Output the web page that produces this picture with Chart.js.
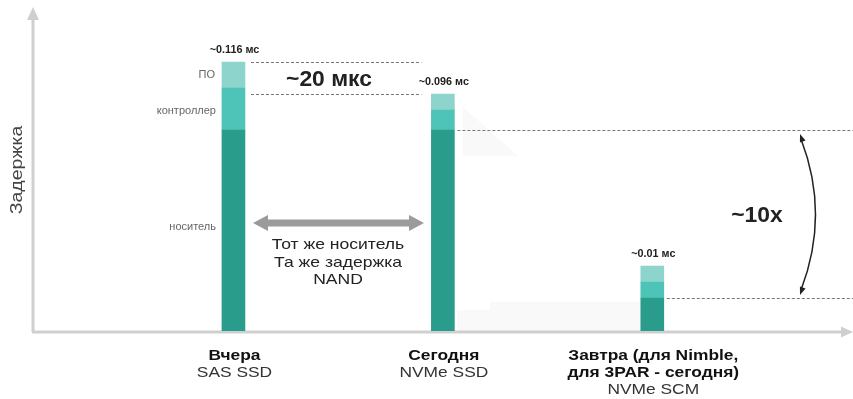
<!DOCTYPE html>
<html>
<head>
<meta charset="utf-8">
<script src="https://cdn.jsdelivr.net/npm/chart.js@4"></script>
<style>
  html, body { margin: 0; padding: 0; background: #fff; }
  #wrap { width: 853px; height: 399px; position: relative; }
</style>
</head>
<body>
<div id="wrap"><canvas id="latency-chart"></canvas></div>
<script>
// данные
const categoryTitles = [['Вчера'], ['Сегодня'], ['Завтра (для Nimble,', 'для 3PAR - сегодня)']];
const categorySubtitles = ['SAS SSD', 'NVMe SSD', 'NVMe SCM'];
const segmentNames = ['носитель', 'контроллер', 'ПО'];
const mediaLatency = [100.5, 100.5, 16.5];
const controllerLatency = [21, 10, 8];
const softwareLatency = [13, 8, 8];
const totalLabels = ['~0.116 мс', '~0.096 мс', '~0.01 мс'];
const yMax = 160;

const FONT = '"Liberation Sans", Arial, sans-serif';

function arrowHead(ctx, x, y, angle, len, wid) {
    ctx.save();
    ctx.translate(x, y);
    ctx.rotate(angle);
    ctx.beginPath();
    ctx.moveTo(0, 0);
    ctx.lineTo(-len, -wid / 2);
    ctx.lineTo(-len, wid / 2);
    ctx.closePath();
    ctx.fill();
    ctx.restore();
}

// текст, растянутый по горизонтали (в оригинале шрифт шире)
function wideText(ctx, text, x, y, sx) {
    ctx.save();
    ctx.translate(x, y);
    ctx.scale(sx, 1);
    ctx.fillText(text, 0, 0);
    ctx.restore();
}

function dashed(ctx, x1, x2, y) {
    ctx.save();
    ctx.strokeStyle = '#777';
    ctx.lineWidth = 1;
    ctx.setLineDash([3, 2]);
    ctx.beginPath();
    ctx.moveTo(x1, y + 0.5);
    ctx.lineTo(x2, y + 0.5);
    ctx.stroke();
    ctx.restore();
}

// оси и подписи
const decorations = {
    id: 'decorations',
    beforeDatasetsDraw(chart) {
        const ctx = chart.ctx;
        const yScale = chart.scales.y;
        const base = yScale.getPixelForValue(0);
        ctx.save();
        // бледные тени
        ctx.fillStyle = '#f9f9f9';
        ctx.beginPath();
        ctx.moveTo(463, 107);
        ctx.lineTo(518, 156);
        ctx.lineTo(463, 156);
        ctx.closePath();
        ctx.fill();
        ctx.fillRect(457, 310, 183, base - 310);
        ctx.fillRect(490, 302, 150, 8);

        // оси
        ctx.strokeStyle = '#cfcfcf';
        ctx.fillStyle = '#cfcfcf';
        ctx.lineWidth = 3;
        ctx.beginPath();
        ctx.moveTo(33, base + 1);
        ctx.lineTo(33, 18);
        ctx.moveTo(32, base + 1);
        ctx.lineTo(842, base + 1);
        ctx.stroke();
        arrowHead(ctx, 33, 7, -Math.PI / 2, 13, 12);
        arrowHead(ctx, 853, base + 1, 0, 12, 11);

        // заголовок оси
        ctx.fillStyle = '#444';
        ctx.font = '16px ' + FONT;
        ctx.translate(22, 170);
        ctx.rotate(-Math.PI / 2);
        ctx.textAlign = 'center';
        ctx.textBaseline = 'alphabetic';
        wideText(ctx, 'Задержка', 0, 0, 1.22);
        ctx.restore();
    },
    afterDatasetsDraw(chart) {
        const ctx = chart.ctx;
        const yScale = chart.scales.y;
        const xScale = chart.scales.x;
        const top = chart.getDatasetMeta(2).data;
        const totals = mediaLatency.map((m, i) => m + controllerLatency[i] + softwareLatency[i]);
        const half = 11.5;

        ctx.save();
        // итоговые значения
        ctx.fillStyle = '#222';
        ctx.font = 'bold 10px ' + FONT;
        ctx.textAlign = 'center';
        ctx.textBaseline = 'alphabetic';
        top.forEach((bar, i) => {
            wideText(ctx, totalLabels[i], bar.x + 1, yScale.getPixelForValue(totals[i]) - 9, 1.08);
        });

        // подписи сегментов слева от первого столбца
        const x0 = xScale.getPixelForValue(0) - half - 6;
        ctx.fillStyle = '#666';
        ctx.font = '11px ' + FONT;
        ctx.textAlign = 'right';
        ctx.textBaseline = 'middle';
        ctx.fillText(segmentNames[2], x0 - 1, yScale.getPixelForValue(mediaLatency[0] + controllerLatency[0] + softwareLatency[0] / 2));
        ctx.fillText(segmentNames[1], x0, yScale.getPixelForValue(mediaLatency[0] + controllerLatency[0] / 2) + 2);
        ctx.fillText(segmentNames[0], x0, yScale.getPixelForValue(mediaLatency[0] * 0.52));

        // пунктиры
        const x1r = xScale.getPixelForValue(0) + half;
        const x2l = xScale.getPixelForValue(1) - half;
        const x2r = xScale.getPixelForValue(1) + half;
        const x3r = xScale.getPixelForValue(2) + half;
        dashed(ctx, x1r + 6, x2l - 10, yScale.getPixelForValue(totals[0]));
        dashed(ctx, x1r + 6, x2l - 10, yScale.getPixelForValue(totals[1]));
        dashed(ctx, x2r + 3, 853, yScale.getPixelForValue(mediaLatency[1]));
        dashed(ctx, x3r + 3, 853, yScale.getPixelForValue(mediaLatency[2]));

        // ~20 мкс
        ctx.fillStyle = '#222';
        ctx.font = 'bold 22px ' + FONT;
        ctx.textAlign = 'center';
        ctx.textBaseline = 'middle';
        wideText(ctx, '~20 мкс', 329, (yScale.getPixelForValue(totals[0]) + yScale.getPixelForValue(totals[1])) / 2 + 2, 1.04);

        // ~10x
        const yA = yScale.getPixelForValue(mediaLatency[1]) + 4;
        const yB = yScale.getPixelForValue(mediaLatency[2]) - 3;
        wideText(ctx, '~10x', 757, (yA + yB) / 2 + 1, 1.04);

        // изогнутая стрелка
        ctx.strokeStyle = '#222';
        ctx.fillStyle = '#222';
        ctx.lineWidth = 1.5;
        ctx.beginPath();
        ctx.moveTo(801, yA + 5);
        ctx.quadraticCurveTo(830, (yA + yB) / 2, 801, yB - 5);
        ctx.stroke();
        arrowHead(ctx, 800, yA, -Math.PI / 2 - 0.35, 8, 6);
        arrowHead(ctx, 800, yB, Math.PI / 2 + 0.35, 8, 6);

        // серая двойная стрелка
        const ay = 223;
        ctx.fillStyle = '#9b9b9b';
        ctx.fillRect(266, ay - 3.5, 144, 7);
        ctx.beginPath();
        ctx.moveTo(253, ay);
        ctx.lineTo(268, ay - 8);
        ctx.lineTo(268, ay + 8);
        ctx.closePath();
        ctx.moveTo(424, ay);
        ctx.lineTo(409, ay - 8);
        ctx.lineTo(409, ay + 8);
        ctx.closePath();
        ctx.fill();

        ctx.fillStyle = '#222';
        ctx.font = '15px ' + FONT;
        ctx.textBaseline = 'alphabetic';
        wideText(ctx, 'Тот же носитель', 338, 249, 1.17);
        wideText(ctx, 'Та же задержка', 338, 266.5, 1.17);
        wideText(ctx, 'NAND', 338, 284, 1.17);

        // подписи категорий
        ctx.textAlign = 'center';
        categoryTitles.forEach((lines, i) => {
            const cx = xScale.getPixelForValue(i) + 1;
            let y = 360;
            ctx.fillStyle = '#111';
            ctx.font = 'bold 15.5px ' + FONT;
            lines.forEach(line => {
                wideText(ctx, line, cx, y, 1.12);
                y += 17;
            });
            ctx.fillStyle = '#333';
            ctx.font = '15.5px ' + FONT;
            wideText(ctx, categorySubtitles[i], cx, y, 1.12);
        });
        ctx.restore();
    }
};

const ctx = document.getElementById('latency-chart').getContext('2d');
const latencyChart = new Chart(ctx, {
    type: 'bar',
    data: {
        labels: categorySubtitles,
        datasets: [
            { label: segmentNames[0], data: mediaLatency, backgroundColor: '#2a9c8c' },
            { label: segmentNames[1], data: controllerLatency, backgroundColor: '#4ec3b7' },
            { label: segmentNames[2], data: softwareLatency, backgroundColor: '#8dd4cc' }
        ]
    },
    options: {
        responsive: true,
        maintainAspectRatio: false,
        animation: false,
        layout: { padding: { left: 128.75, right: 96, top: 11, bottom: 68 } },
        datasets: { bar: { barThickness: 23 } },
        scales: {
            x: { stacked: true, display: false },
            y: { stacked: true, display: false, min: 0, max: yMax }
        },
        plugins: {
            legend: { display: false },
            tooltip: { enabled: false }
        }
    },
    plugins: [decorations]
});
</script>
</body>
</html>
